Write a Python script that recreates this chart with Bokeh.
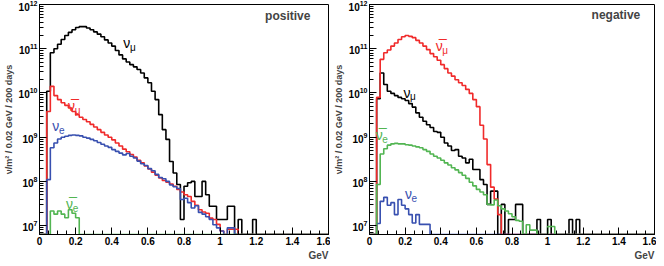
from bokeh.plotting import figure
from bokeh.layouts import row
from bokeh.models import Range1d, Label, SingleIntervalTicker, LogTicker, Title
from bokeh.embed import file_html
from bokeh.resources import INLINE

# ---- data: log10(neutrinos / m^2 / 0.02 GeV / 200 days) per 0.02 GeV bin (0 = empty bin) ----
BIN_WIDTH = 0.02
N_BINS = 80

pos_numu = [0, 0, 10.04, 10.91, 11.00, 11.10, 11.21, 11.30, 11.37, 11.43,
            11.48, 11.50, 11.50, 11.47, 11.43, 11.38, 11.33, 11.27, 11.20, 11.13,
            11.06, 10.96, 10.86, 10.77, 10.70, 10.64, 10.59, 10.53, 10.45, 10.34,
            10.23, 10.04, 9.85, 9.51, 9.17, 8.95, 8.45, 8.19, 7.93, 7.14,
            7.89, 7.97, 8.00, 7.66, 7.66, 8.00, 7.70, 7.44, 7.44, 7.14,
            7.14, 7.14, 7.44, 7.44, 0, 7.14, 0, 0, 0, 7.14,
            0, 0, 0, 0, 0, 0, 0, 0, 0, 0,
            0, 0, 0, 0, 0, 0, 0, 0, 0, 0]
pos_numubar = [0, 0, 9.58, 10.15, 9.94, 9.85, 9.78, 9.72, 9.66, 9.58,
               9.51, 9.45, 9.40, 9.35, 9.29, 9.23, 9.17, 9.11, 9.05, 9.00,
               8.94, 8.87, 8.80, 8.73, 8.67, 8.61, 8.55, 8.48, 8.42, 8.35,
               8.28, 8.21, 8.14, 8.08, 8.02, 7.98, 7.94, 7.89, 7.82, 7.76,
               7.70, 7.66, 7.55, 7.46, 7.36, 7.31, 7.28, 7.17, 7.14, 7.03,
               6.88, 0, 6.92, 6.92, 6.92, 0, 0, 0, 0, 0,
               0, 0, 0, 0, 0, 0, 0, 0, 0, 0,
               0, 0, 0, 0, 0, 0, 0, 0, 0, 0]
pos_nue = [0, 0, 8.04, 8.76, 8.87, 8.96, 9.00, 9.02, 9.04, 9.05,
           9.04, 9.03, 9.00, 8.98, 8.95, 8.92, 8.88, 8.84, 8.80, 8.77,
           8.72, 8.68, 8.64, 8.60, 8.63, 8.57, 8.53, 8.46, 8.40, 8.36,
           8.29, 8.24, 8.16, 8.09, 8.06, 8.00, 7.92, 7.88, 7.84, 7.59,
           7.62, 7.52, 7.40, 7.45, 7.30, 7.26, 7.20, 7.14, 7.02, 6.95,
           6.88, 0, 6.95, 6.95, 0, 0, 0, 0, 0, 0,
           0, 0, 0, 0, 0, 0, 0, 0, 0, 0,
           0, 0, 0, 0, 0, 0, 0, 0, 0, 0]
pos_nuebar = [0, 0, 0, 7.33, 7.26, 7.33, 7.26, 7.18, 7.36, 7.28,
              7.18, 0, 0, 0, 0, 0, 0, 0, 0, 0,
              0, 0, 0, 0, 0, 0, 0, 0, 0, 0,
              0, 0, 0, 0, 0, 0, 0, 0, 0, 0,
              0, 0, 0, 0, 0, 0, 0, 0, 0, 0,
              0, 0, 0, 0, 0, 0, 0, 0, 0, 0,
              0, 0, 0, 0, 0, 0, 0, 0, 0, 0,
              0, 0, 0, 0, 0, 0, 0, 0, 0, 0]

neg_numu = [0, 0, 9.87, 10.45, 10.19, 10.04, 9.99, 9.94, 9.90, 9.87,
            9.83, 9.76, 9.68, 9.55, 9.45, 9.36, 9.28, 9.22, 9.13, 9.11,
            9.00, 8.87, 8.80, 8.70, 8.72, 8.57, 8.53, 8.42, 8.50, 8.27,
            8.27, 8.04, 7.93, 7.48, 7.78, 7.78, 0, 7.48, 0, 7.14,
            7.14, 7.48, 7.48, 0, 0, 0, 0, 7.14, 0, 0,
            7.14, 0, 0, 0, 0, 0, 7.14, 0, 7.14, 0,
            0, 0, 0, 0, 0, 0, 0, 0, 0, 0,
            0, 0, 0, 0, 0, 0, 0, 0, 0, 0]
neg_numubar = [0, 0, 9.90, 10.76, 10.91, 10.97, 11.06, 11.13, 11.21, 11.27,
               11.30, 11.28, 11.25, 11.19, 11.13, 11.06, 10.98, 10.89, 10.82, 10.74,
               10.64, 10.55, 10.45, 10.38, 10.30, 10.23, 10.17, 10.08, 9.99, 9.85,
               9.69, 9.27, 8.96, 8.38, 7.87, 7.60, 7.25, 0, 0, 0,
               0, 0, 0, 0, 0, 0, 0, 0, 0, 0,
               0, 0, 0, 0, 0, 0, 0, 0, 0, 0,
               0, 0, 0, 0, 0, 0, 0, 0, 0, 0,
               0, 0, 0, 0, 0, 0, 0, 0, 0, 0]
neg_nue = [0, 0, 7.05, 7.55, 7.64, 7.46, 7.52, 7.25, 7.59, 7.46,
           7.38, 7.25, 7.06, 7.25, 7.03, 7.03, 7.03, 0, 0, 0,
           0, 0, 0, 0, 0, 0, 0, 0, 0, 0,
           0, 0, 0, 0, 0, 0, 0, 0, 0, 0,
           0, 0, 0, 0, 0, 0, 0, 0, 0, 0,
           0, 0, 0, 0, 0, 0, 0, 0, 0, 0,
           0, 0, 0, 0, 0, 0, 0, 0, 0, 0,
           0, 0, 0, 0, 0, 0, 0, 0, 0, 0]
neg_nuebar = [0, 0, 7.93, 8.62, 8.74, 8.82, 8.85, 8.86, 8.85, 8.85,
              8.83, 8.82, 8.80, 8.78, 8.76, 8.72, 8.68, 8.62, 8.57, 8.53,
              8.48, 8.42, 8.37, 8.31, 8.26, 8.20, 8.14, 8.07, 7.98, 7.90,
              7.82, 7.76, 7.70, 7.48, 7.47, 7.58, 7.45, 7.38, 7.33, 7.27,
              7.20, 7.12, 7.10, 0, 7.02, 6.90, 6.90, 0, 0, 0,
              6.98, 6.98, 0, 0, 0, 0, 0, 0, 0, 0,
              0, 0, 0, 0, 0, 0, 0, 0, 0, 0,
              0, 0, 0, 0, 0, 0, 0, 0, 0, 0]

X_MIN, X_MAX = 0.0, 1.6
Y_MIN, Y_MAX = 10 ** 6.8, 1e12
Y_LABEL = "\u03bd/m\u00b2 / 0.02 GeV / 200 days"
X_LABEL = "GeV"

BLACK = "#000000"
RED = "#f02a2a"
BLUE = "#3850b0"
GREEN = "#52b552"
FONT = "Liberation Sans"

edges = [round(i * BIN_WIDTH, 2) for i in range(N_BINS + 1)]


def hist(p, logvals, color):
    vals = [10 ** v if v > 0 else Y_MIN for v in logvals]
    ys = vals + [vals[-1]]
    p.step(edges, ys, mode="after", line_color=color, line_width=1.6)


def make_fig(width, left, right):
    p = figure(width=width, frame_height=230, x_range=Range1d(X_MIN, X_MAX),
               y_range=Range1d(Y_MIN, Y_MAX), y_axis_type="log",
               output_backend="svg", toolbar_location=None,
               min_border_left=left, min_border_right=right,
               min_border_top=4, min_border_bottom=0)
    p.grid.visible = False
    p.outline_line_color = "black"
    p.outline_line_width = 1
    p.background_fill_color = "white"
    p.border_fill_color = "white"
    p.xaxis.ticker = SingleIntervalTicker(interval=0.2, num_minor_ticks=4)
    p.yaxis.ticker = LogTicker(num_minor_ticks=10)
    for ax in (p.xaxis[0], p.yaxis[0]):
        ax.major_tick_in = 7
        ax.major_tick_out = 0
        ax.minor_tick_in = 4
        ax.minor_tick_out = 0
        ax.axis_line_color = "black"
        ax.major_tick_line_color = "black"
        ax.minor_tick_line_color = "black"
        ax.major_label_text_font = FONT
        ax.major_label_text_font_style = "bold"
        ax.major_label_text_font_size = "10px"
        ax.major_label_text_color = "black"
        ax.major_label_standoff = 2
    p.yaxis.axis_label = Y_LABEL
    p.yaxis.axis_label_text_font = FONT
    p.yaxis.axis_label_text_font_style = "bold"
    p.yaxis.axis_label_text_font_size = "9px"
    p.yaxis.axis_label_standoff = 2
    p.add_layout(Title(text=X_LABEL, align="right", text_font=FONT,
                       text_font_style="bold", text_font_size="10px",
                       offset=0, standoff=0), "below")
    return p


def lab(p, x, y, main, sub, color):
    p.add_layout(Label(x=x, y=10 ** y, text=main, text_color=color, text_font=FONT,
                       text_font_size="14px", text_baseline="middle", text_align="left"))
    p.add_layout(Label(x=x + 0.037, y=10 ** (y - 0.09), text=sub, text_color=color,
                       text_font=FONT, text_font_size="10px", text_baseline="middle",
                       text_align="left"))


NU = "\u03bd"
NUBAR = "\u03bd\u0305"
MU = "\u03bc"

p1 = make_fig(330, 29, 2)
hist(p1, pos_numu, BLACK)
hist(p1, pos_numubar, RED)
hist(p1, pos_nue, BLUE)
hist(p1, pos_nuebar, GREEN)
p1.add_layout(Label(x=1.5, y=10 ** 11.73, text="positive", text_align="right",
                    text_baseline="middle", text_font=FONT, text_font_style="bold",
                    text_font_size="12px"))
lab(p1, 0.464, 11.12, NU, MU, BLACK)
lab(p1, 0.158, 9.70, NUBAR, MU, RED)
lab(p1, 0.071, 9.25, NU, "e", BLUE)
lab(p1, 0.147, 7.50, NUBAR, "e", GREEN)

p2 = make_fig(326, 31, 2)
hist(p2, neg_numu, BLACK)
hist(p2, neg_numubar, RED)
hist(p2, neg_nue, BLUE)
hist(p2, neg_nuebar, GREEN)
p2.add_layout(Label(x=1.52, y=10 ** 11.77, text="negative", text_align="right",
                    text_baseline="middle", text_font=FONT, text_font_style="bold",
                    text_font_size="12px"))
lab(p2, 0.372, 11.06, NUBAR, MU, RED)
lab(p2, 0.191, 10.00, NU, MU, BLACK)
lab(p2, 0.035, 9.05, NUBAR, "e", GREEN)
lab(p2, 0.199, 7.72, NU, "e", BLUE)

layout = row(p1, p2)
open("out.html", "w").write(file_html(layout, INLINE))
